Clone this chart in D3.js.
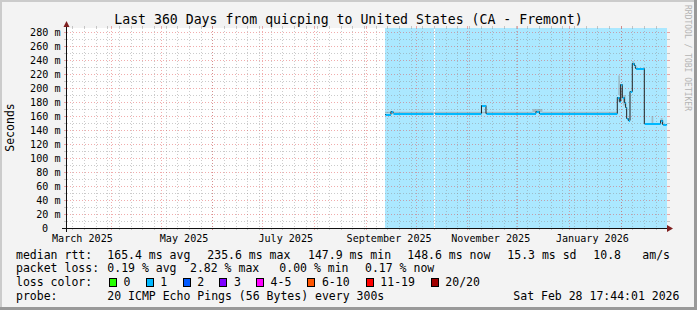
<!DOCTYPE html>
<html lang="en">
<head>
<meta charset="utf-8">
<title>Last 360 Days from quicping to United States (CA - Fremont)</title>
<script src="https://d3js.org/d3.v7.min.js"></script>
<style>
  body { margin: 0; background: #f3f3f3; }
  svg { display: block; font-family: "DejaVu Sans Mono", monospace; }
  text { white-space: pre; }
</style>
</head>
<body>
<script>
var W = 697, H = 310;

// median rtt, step data: value holds until the next date (null = no data)
var medianDates = ["2025-09-12T13:00", "2025-09-16T03:00", "2025-09-17T08:00", "2025-10-11T16:00",
  "2025-10-12T08:00", "2025-11-09T10:00", "2025-11-12T03:00", "2025-12-12T03:00", "2025-12-14T03:00",
  "2026-01-29T22:00", "2026-01-31T03:00", "2026-01-31T22:00", "2026-02-01T22:00", "2026-02-03T03:00",
  "2026-02-03T22:00", "2026-02-04T13:00", "2026-02-05T13:00", "2026-02-06T13:00", "2026-02-07T22:00",
  "2026-02-09T03:00", "2026-02-09T22:00", "2026-02-15T03:00", "2026-02-24T22:00", "2026-02-26T03:00",
  "2026-02-28T12:00"];
var medianMs = [163.5, 167, 164, null,
  164, 176, 164, 166.5, 164,
  187.6, 181, 206, 187, 180,
  173, 157, 154, 195, 235.6,
  233, 228, 149.5, 154, 149,
  148.6];

// grey smoke (spread of the pings) drawn above the median
var smokeStart = ["2025-09-12T13:00", "2025-10-12T08:00", "2025-12-10T00:00", "2025-12-16T00:00",
  "2026-01-30T12:00", "2026-02-01T00:00", "2026-02-02T12:00", "2026-02-07T22:00", "2026-02-19T12:00",
  "2026-02-24T22:00"];
var smokeEnd = ["2025-10-11T16:00", "2025-12-10T00:00", "2025-12-16T00:00", "2026-01-29T22:00",
  "2026-01-31T12:00", "2026-02-02T00:00", "2026-02-03T22:00", "2026-02-09T03:00", "2026-02-20T12:00",
  "2026-02-26T03:00"];
var smokeLo = [164, 164, 165, 164, 190, 183, 175, 233, 150, 153];
var smokeHi = [166, 166, 170, 166, 218, 200, 190, 238, 160, 157];

var yTicks = d3.range(0, 281, 20);
var lossLabels = ["0", "1", "2", "3", "4-5", "6-10", "11-19", "20/20"];
var lossColors = ["#26ff00", "#00b8ff", "#0059ff", "#7e00ff", "#ff00ff", "#ff5500", "#ff0000", "#a00000"];

var rttStats = ["165.4 ms avg", "235.6 ms max", "147.9 ms min", "148.6 ms now", "15.3 ms sd", "10.8", "am/s"];
var lossStats = ["0.19 % avg", "2.82 % max", "0.00 % min", "0.17 % now"];
var probeText = "20 ICMP Echo Pings (56 Bytes) every 300s";
var stampText = "Sat Feb 28 17:44:01 2026";

var parse = d3.timeParse("%Y-%m-%dT%H:%M");
var t1 = new Date(2026, 1, 28, 17, 44, 1);
var t0 = new Date(+t1 - 360 * 864e5);

var x = d3.scaleTime().domain([t0, t1]).range([67, 667]);
var y = d3.scaleLinear().domain([0, 285.714]).range([228, 28]);

var pts = medianDates.map(function(d, i) { return { t: parse(d), v: medianMs[i] }; });
pts.forEach(function(p, i) { p.t2 = i < pts.length - 1 ? pts[i + 1].t : t1; });

var svg = d3.select("body").append("svg").attr("width", W).attr("height", H);

// frame
svg.append("rect").attr("width", W).attr("height", H).attr("fill", "#f3f3f3");
svg.append("rect").attr("x", 0).attr("y", 0).attr("width", W).attr("height", 2).attr("fill", "#cbcbcb");
svg.append("rect").attr("x", 0).attr("y", 0).attr("width", 2).attr("height", H).attr("fill", "#cbcbcb");
svg.append("rect").attr("x", 0).attr("y", H - 3).attr("width", W).attr("height", 3).attr("fill", "#999");
svg.append("rect").attr("x", W - 3).attr("y", 0).attr("width", 3).attr("height", H).attr("fill", "#999");

// canvas
svg.append("rect").attr("x", 67).attr("y", 28).attr("width", 600).attr("height", 200).attr("fill", "#fff");

// loss background
svg.append("g").selectAll("rect")
  .data(pts.filter(function(p) { return p.v != null; }))
  .enter().append("rect")
  .attr("x", function(p) { return Math.round(x(p.t)); })
  .attr("width", function(p) { return Math.round(x(p.t2)) - Math.round(x(p.t)); })
  .attr("y", 28).attr("height", 200)
  .attr("fill", lossColors[1]).attr("fill-opacity", 0.33)
  .attr("shape-rendering", "crispEdges");

// grid
var grid = svg.append("g").attr("shape-rendering", "crispEdges");
function vline(t, col) {
  var px = Math.round(x(t)) + 0.5;
  grid.append("line").attr("x1", px).attr("x2", px).attr("y1", 28).attr("y2", 228)
    .attr("stroke", col).attr("stroke-dasharray", "1,2");
  grid.append("line").attr("x1", px).attr("x2", px).attr("y1", 228).attr("y2", 230).attr("stroke", col);
  grid.append("line").attr("x1", px).attr("x2", px).attr("y1", 26).attr("y2", 28).attr("stroke", col);
}
function hline(v, col) {
  var py = Math.round(y(v)) + 0.5;
  grid.append("line").attr("x1", 67).attr("x2", 667).attr("y1", py).attr("y2", py)
    .attr("stroke", col).attr("stroke-dasharray", "1,2");
  grid.append("line").attr("x1", 64).attr("x2", 67).attr("y1", py).attr("y2", py).attr("stroke", col);
  grid.append("line").attr("x1", 667).attr("x2", 670).attr("y1", py).attr("y2", py).attr("stroke", col);
}
var minorCol = "rgba(140,140,140,0.45)", majorCol = "rgba(225,70,70,0.45)";
d3.timeSunday.range(t0, t1).forEach(function(t) { vline(t, minorCol); });
d3.range(10, 281, 20).forEach(function(v) { hline(v, minorCol); });
d3.timeMonth.range(t0, t1).forEach(function(t) { vline(t, majorCol); });
yTicks.filter(function(v) { return v > 0; }).forEach(function(v) { hline(v, majorCol); });

// smoke
svg.append("g").selectAll("rect")
  .data(smokeStart.map(function(d, i) { return { a: parse(d), b: parse(smokeEnd[i]), lo: smokeLo[i], hi: smokeHi[i] }; }))
  .enter().append("rect")
  .attr("x", function(d) { return x(d.a); })
  .attr("width", function(d) { return Math.max(1, x(d.b) - x(d.a)); })
  .attr("y", function(d) { return y(d.hi); })
  .attr("height", function(d) { return y(d.lo) - y(d.hi); })
  .attr("fill", "#8a8a8a").attr("fill-opacity", 0.45);

// median: dark step line, then loss-coloured horizontal parts
var stepPts = pts.concat([{ t: t1, v: pts[pts.length - 1].v }]);
svg.append("path")
  .datum(stepPts)
  .attr("d", d3.line()
    .defined(function(p) { return p.v != null; })
    .x(function(p) { return x(p.t); })
    .y(function(p) { return Math.round(y(p.v)) + 0.5; })
    .curve(d3.curveStepAfter))
  .attr("fill", "none").attr("stroke", "#202020").attr("stroke-width", 1);

svg.append("g").selectAll("line")
  .data(pts.filter(function(p) { return p.v != null; }))
  .enter().append("line")
  .attr("x1", function(p) { return x(p.t) + 0.5; })
  .attr("x2", function(p) { return x(p.t2); })
  .attr("y1", function(p) { return Math.round(y(p.v)) + 1; })
  .attr("y2", function(p) { return Math.round(y(p.v)) + 1; })
  .attr("stroke", lossColors[1]).attr("stroke-width", 2);

// axes
var ax = svg.append("g").attr("shape-rendering", "crispEdges");
ax.append("line").attr("x1", 62).attr("x2", 670).attr("y1", 228.5).attr("y2", 228.5).attr("stroke", "#111");
ax.append("line").attr("x1", 66.5).attr("x2", 66.5).attr("y1", 232).attr("y2", 25).attr("stroke", "#111");
svg.append("path").attr("d", "M667,225 L673,228.5 L667,232 Z").attr("fill", "#7f1f1f");
svg.append("path").attr("d", "M63.5,27 L66.5,21 L69.5,27 Z").attr("fill", "#7f1f1f");

// y labels
svg.append("g").selectAll("text")
  .data(yTicks).enter().append("text")
  .attr("x", function(v) { return v === 0 ? 48 : 60.5; })
  .attr("y", function(v) { return Math.round(y(v)) + 4; })
  .attr("text-anchor", "end")
  .attr("font-size", "10.1px")
  .text(function(v) { return v === 0 ? "0" : v + " m"; });

// x labels, centred half a month after the month start
var fmt = d3.timeFormat("%B %Y");
svg.append("g").selectAll("text")
  .data(d3.timeMonth.every(2).range(new Date(2025, 2, 1), t1)).enter().append("text")
  .attr("x", function(t) { return x(d3.timeDay.offset(t, 14)); })
  .attr("y", 242)
  .attr("text-anchor", "middle")
  .attr("font-size", "10.1px")
  .text(fmt);

// titles
svg.append("text").attr("x", 348.5).attr("y", 24).attr("text-anchor", "middle")
  .attr("font-size", "13.2px").text("Last 360 Days from quicping to United States (CA - Fremont)");
svg.append("text").attr("transform", "translate(14,127.5) rotate(-90)").attr("text-anchor", "middle")
  .attr("font-size", "11.5px").text("Seconds");
svg.append("text").attr("transform", "translate(685,5) rotate(90)")
  .attr("font-size", "8px").attr("fill", "#b4b4b4").text("RRDTOOL / TOBI OETIKER");

// legend
var lg = svg.append("g").attr("font-size", "11.5px");
var rttX = [107.3, 207.3, 308, 407.3, 507.3, 593.3, 642.3];
var lossX = [107.3, 190, 279.3, 365];
var boxX = [109, 145.7, 182.7, 219.3, 256, 307.3, 365.7, 430.7];
lg.append("text").attr("x", 16).attr("y", 258.5).text("median rtt:");
rttStats.forEach(function(s, i) { lg.append("text").attr("x", rttX[i]).attr("y", 258.5).text(s); });
lg.append("text").attr("x", 16).attr("y", 272.3).text("packet loss:");
lossStats.forEach(function(s, i) { lg.append("text").attr("x", lossX[i]).attr("y", 272.3).text(s); });
lg.append("text").attr("x", 16).attr("y", 286.3).text("loss color:");
lossLabels.forEach(function(s, i) {
  lg.append("rect").attr("x", boxX[i] + 0.5).attr("y", 278.5).attr("width", 7).attr("height", 8)
    .attr("fill", lossColors[i]).attr("stroke", "#000").attr("shape-rendering", "crispEdges");
  lg.append("text").attr("x", boxX[i] + 14.6).attr("y", 286.3).text(s);
});
lg.append("text").attr("x", 16).attr("y", 300.2).text("probe:");
lg.append("text").attr("x", 107.3).attr("y", 300.2).text(probeText);
lg.append("text").attr("x", 513.3).attr("y", 300.2).text(stampText);
</script>
</body>
</html>
